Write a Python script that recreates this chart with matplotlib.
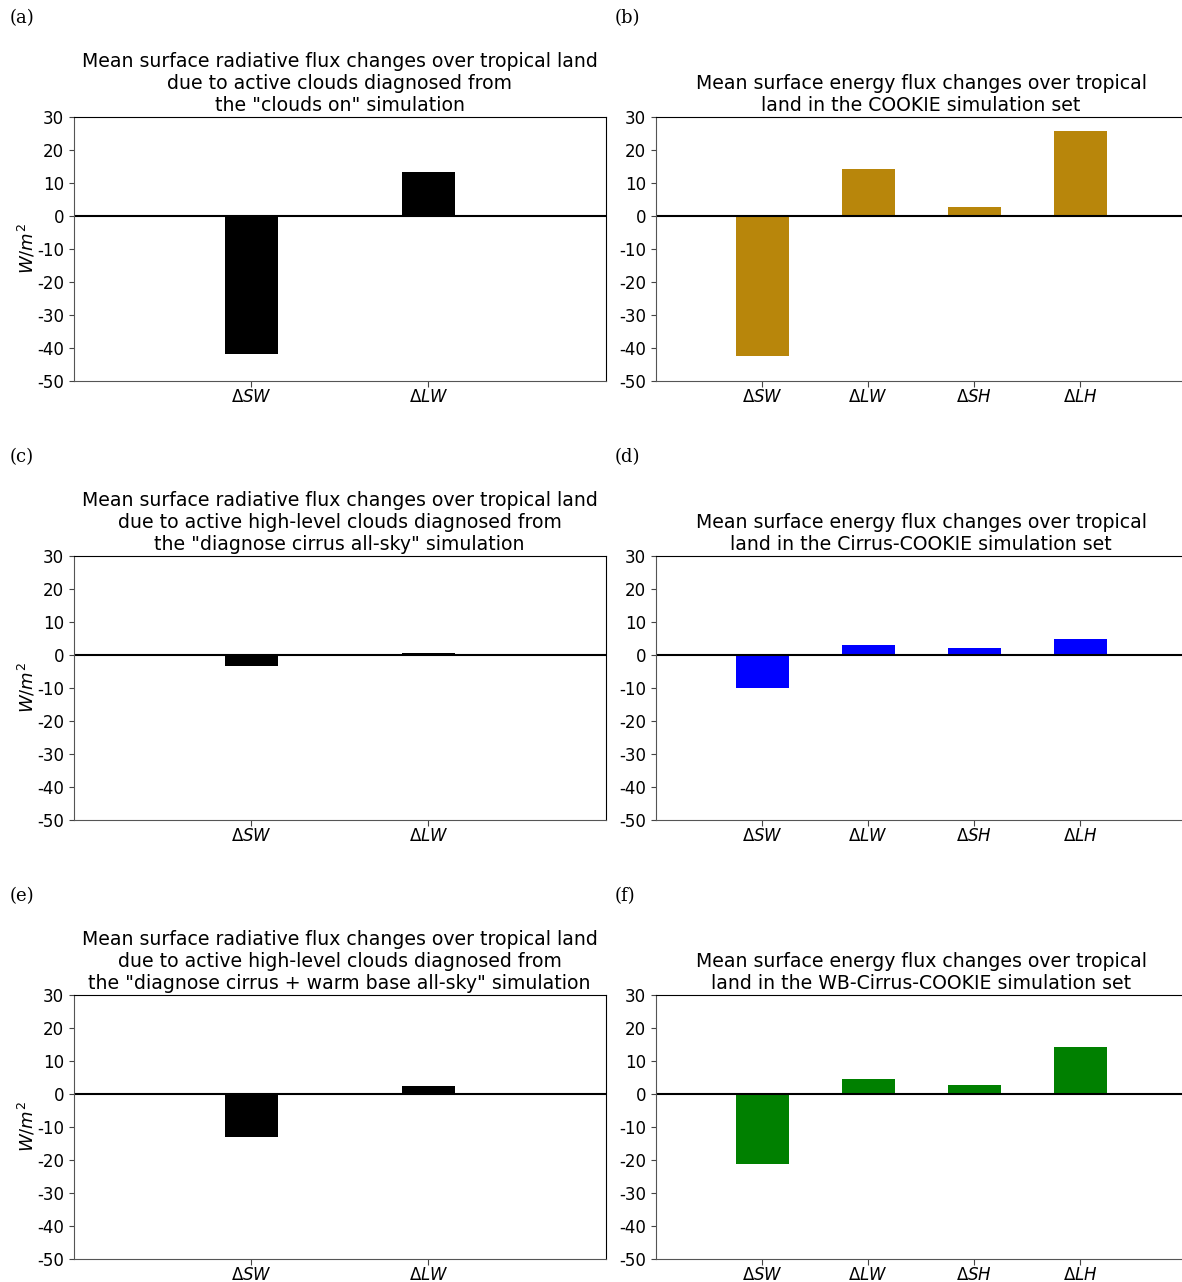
import matplotlib
matplotlib.use("Agg")
import matplotlib.pyplot as plt

plt.rcParams["axes.unicode_minus"] = False

rad_labels = [r"$\Delta SW$", r"$\Delta LW$"]
energy_labels = [r"$\Delta SW$", r"$\Delta LW$", r"$\Delta SH$", r"$\Delta LH$"]

clouds_on = [-41.8, 13.3]
cookie = [-42.3, 14.2, 2.7, 25.8]
cirrus_allsky = [-3.2, 0.5]
cirrus_cookie = [-10.0, 3.0, 2.1, 5.0]
wb_cirrus_allsky = [-12.9, 2.4]
wb_cirrus_cookie = [-21.2, 4.5, 2.7, 14.2]

rad_titles = [
    'Mean surface radiative flux changes over tropical land\n'
    'due to active clouds diagnosed from\nthe "clouds on" simulation',
    'Mean surface radiative flux changes over tropical land\n'
    'due to active high-level clouds diagnosed from\nthe "diagnose cirrus all-sky" simulation',
    'Mean surface radiative flux changes over tropical land\n'
    'due to active high-level clouds diagnosed from\nthe "diagnose cirrus + warm base all-sky" simulation',
]
energy_titles = [
    "Mean surface energy flux changes over tropical\nland in the COOKIE simulation set",
    "Mean surface energy flux changes over tropical\nland in the Cirrus-COOKIE simulation set",
    "Mean surface energy flux changes over tropical\nland in the WB-Cirrus-COOKIE simulation set",
]
energy_colors = ["darkgoldenrod", "blue", "green"]
panel_letters = ["(a)", "(b)", "(c)", "(d)", "(e)", "(f)"]

W, H = 1182, 1282
fig = plt.figure(figsize=(W / 100, H / 100), dpi=100)


def make_axes(x0, x1, ytop):
    return fig.add_axes([x0 / W, 1 - (ytop + 264) / H, (x1 - x0) / W, 264 / H])


def style(ax):
    ax.set_ylim(-50, 30)
    ax.set_yticks(range(-50, 31, 10))
    ax.tick_params(labelsize=12, color="#444444")
    ax.tick_params(axis="x", length=4, pad=1.2)
    for s in ["left", "bottom"]:
        ax.spines[s].set_color("#555555")
    ax.axhline(0, color="black", linewidth=1.5)


rad_data = [clouds_on, cirrus_allsky, wb_cirrus_allsky]
energy_data = [cookie, cirrus_cookie, wb_cirrus_cookie]
tops = [117, 556, 995]

for row in range(3):
    top = tops[row]

    ax = make_axes(74, 605.5, top)
    ax.bar(range(len(rad_labels)), rad_data[row], width=0.3, color="black")
    ax.set_xlim(-1, 2)
    ax.set_xticks(range(len(rad_labels)))
    ax.set_xticklabels(rad_labels)
    style(ax)
    ax.set_ylabel(r"$W/m^2$", fontsize=13, labelpad=0)
    ax.set_title(rad_titles[row], fontsize=13.6, pad=4)

    ax = make_axes(656, 1186, top)
    ax.bar(range(len(energy_labels)), energy_data[row], width=0.5, color=energy_colors[row])
    ax.set_xlim(-1, 4)
    ax.set_xticks(range(len(energy_labels)))
    ax.set_xticklabels(energy_labels)
    style(ax)
    ax.set_title(energy_titles[row], fontsize=13.6, pad=4)

    fig.text(10 / W, 1 - (top - 99) / H, panel_letters[2 * row], family="DejaVu Serif",
             fontsize=13, va="center", ha="left")
    fig.text(615 / W, 1 - (top - 99) / H, panel_letters[2 * row + 1], family="DejaVu Serif",
             fontsize=13, va="center", ha="left")

fig.savefig("out.png", dpi=100)
